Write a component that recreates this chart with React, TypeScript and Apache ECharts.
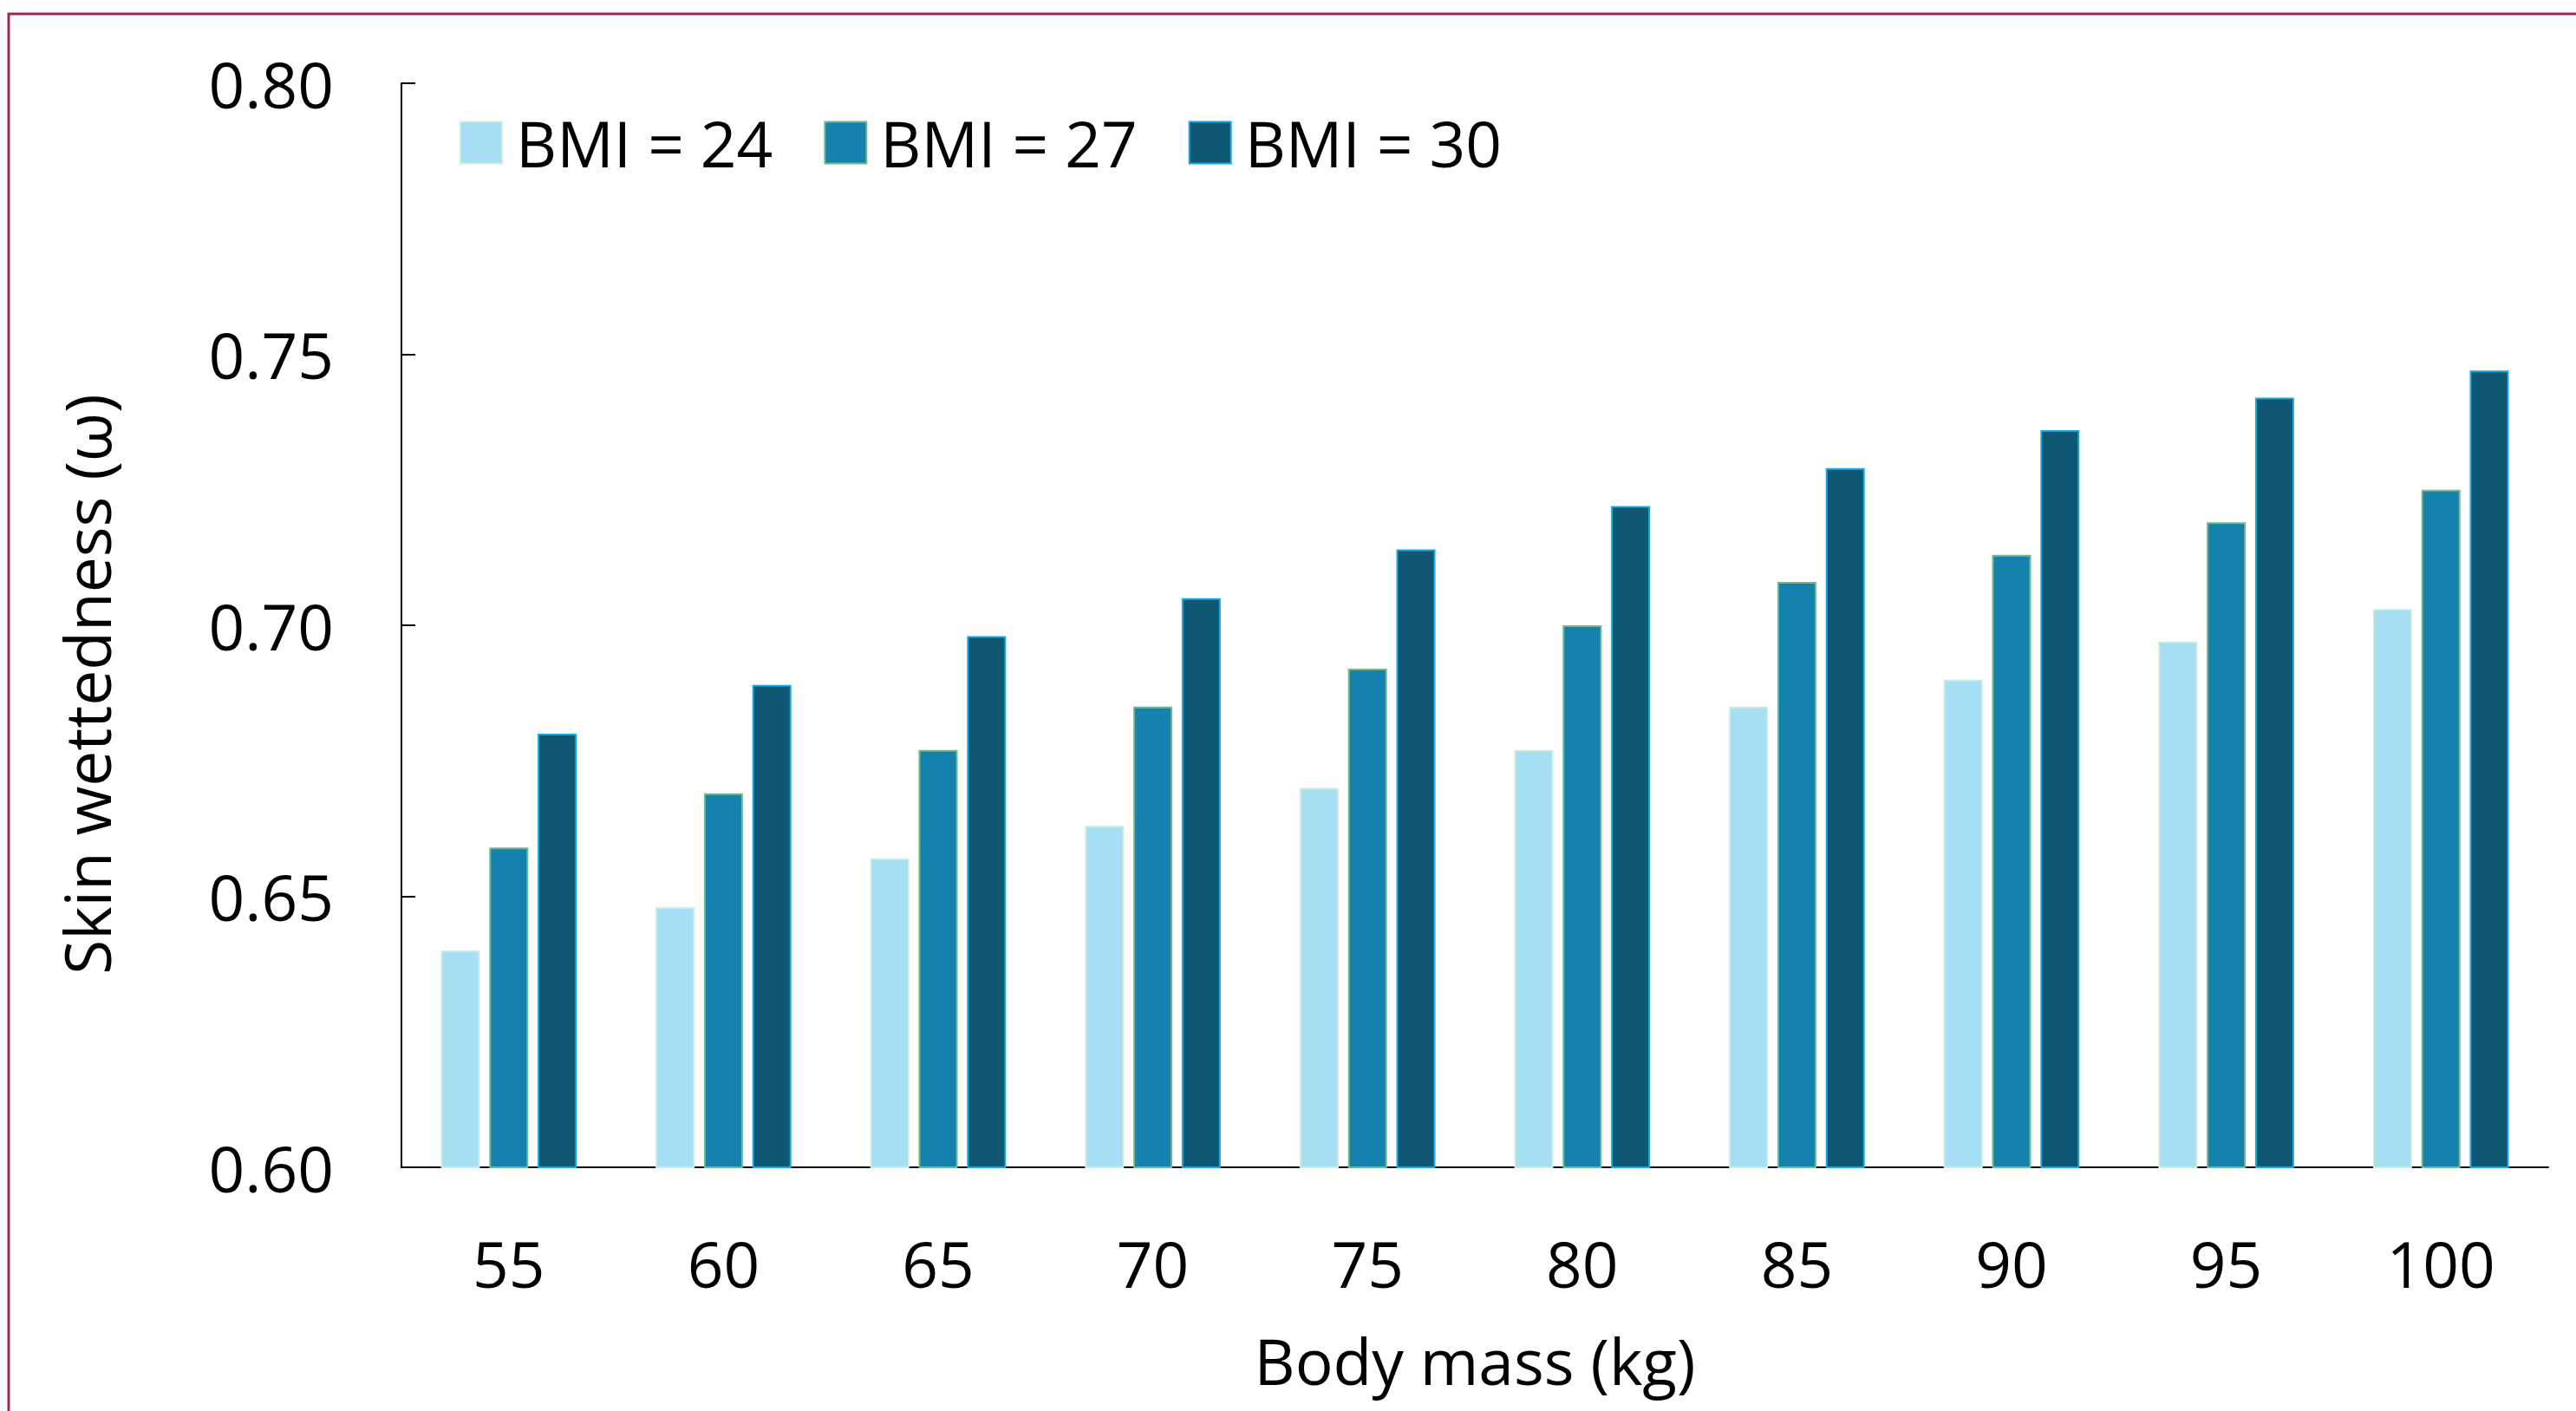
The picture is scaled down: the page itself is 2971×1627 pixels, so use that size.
import React, { useEffect, useRef } from "react";
import * as echarts from "echarts";

const categories = ["55", "60", "65", "70", "75", "80", "85", "90", "95", "100"];
const seriesNames = ["BMI = 24", "BMI = 27", "BMI = 30"];
const bmi24 = [0.640, 0.648, 0.657, 0.663, 0.670, 0.677, 0.685, 0.690, 0.697, 0.703];
const bmi27 = [0.659, 0.669, 0.677, 0.685, 0.692, 0.700, 0.708, 0.713, 0.719, 0.725];
const bmi30 = [0.680, 0.689, 0.698, 0.705, 0.714, 0.722, 0.729, 0.736, 0.742, 0.747];
const fills = ["#A6DFF3", "#1581AE", "#0E5874"];
const borders = ["#CDEBE0", "#6DBA8C", "#1AA8E0"];

const FONT = "'Open Sans', sans-serif";

export default function App() {
  const ref = useRef<HTMLDivElement>(null);
  useEffect(() => {
    if (!ref.current) return;
    const chart = echarts.init(ref.current, null, { renderer: "svg" });
    const data = [bmi24, bmi27, bmi30];
    chart.setOption({
      animation: false,
      backgroundColor: "#ffffff",
      textStyle: { fontFamily: FONT },
      grid: { left: 463, right: 32, top: 96, bottom: 281, containLabel: false },
      legend: {
        left: 525,
        top: 123,
        itemWidth: 48,
        itemHeight: 48,
        itemGap: 59,
        icon: "rect",
        selectedMode: false,
        textStyle: {
          fontFamily: FONT,
          fontSize: 73,
          color: "#000",
          lineHeight: 73,
          padding: [0, 0, 0, 11],
        },
        data: seriesNames,
      },
      xAxis: {
        type: "category",
        data: categories,
        axisLine: { show: true, lineStyle: { color: "#000", width: 2 } },
        axisTick: { show: false },
        axisLabel: { fontFamily: FONT, fontSize: 73, color: "#000", margin: 74 },
        name: "Body mass (kg)",
        nameLocation: "middle",
        nameGap: 186,
        nameTextStyle: { fontFamily: FONT, fontSize: 73, color: "#000" },
      },
      yAxis: {
        type: "value",
        min: 0.6,
        max: 0.8,
        interval: 0.05,
        axisLine: { show: true, lineStyle: { color: "#000", width: 2 } },
        axisTick: { show: true, inside: true, length: 16, lineStyle: { color: "#000", width: 2 } },
        splitLine: { show: false },
        axisLabel: {
          fontFamily: FONT,
          fontSize: 73,
          color: "#000",
          margin: 78,
          padding: [20, 0, 0, 0],
          formatter: (v: number) => v.toFixed(2),
        },
        name: "Skin wettedness (\u03c9)",
        nameLocation: "middle",
        nameGap: 327,
        nameTextStyle: { fontFamily: FONT, fontSize: 73, color: "#000", padding: [0, 136, 0, 0] },
      },
      graphic: [
        {
          type: "polyline",
          shape: { points: [[10, 1627], [10, 16], [2971, 16]] },
          style: { stroke: "#A0245F", lineWidth: 3, fill: "none" },
          silent: true,
        },
      ],
      series: seriesNames.map((name, i) => ({
        name,
        type: "bar",
        data: data[i],
        barWidth: 45,
        barGap: "24%",
        itemStyle: { color: fills[i], borderColor: borders[i], borderWidth: 2 },
      })),
    });
    return () => chart.dispose();
  }, []);
  return (
    <div
      ref={ref}
      style={{ position: "absolute", left: 0, top: 0, width: 2971, height: 1627 }}
    />
  );
}
